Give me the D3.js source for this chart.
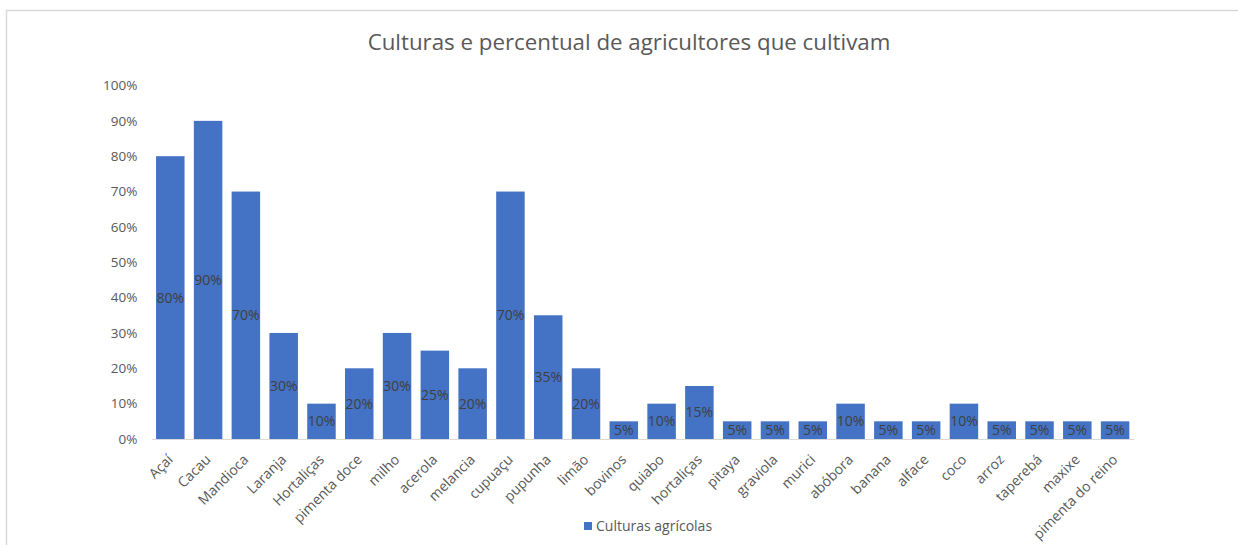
<!DOCTYPE html>
<html><head><meta charset="utf-8">
<script src="https://cdn.jsdelivr.net/npm/d3@7"></script>
<style>body{margin:0;background:#fff} svg{display:block}</style>
</head><body><svg id="c" width="1238" height="545"></svg>
<script>
const categories = ["Açaí","Cacau","Mandioca","Laranja","Hortaliças","pimenta doce","milho","acerola","melancia","cupuaçu","pupunha","limão","bovinos","quiabo","hortaliças","pitaya","graviola","murici","abóbora","banana","alface","coco","arroz","taperebá","maxixe","pimenta do reino"];
const values = [80,90,70,30,10,20,30,25,20,70,35,20,5,10,15,5,5,5,10,5,5,10,5,5,5,5];
const yTicks = [0,10,20,30,40,50,60,70,80,90,100];
const seriesName = "Culturas agrícolas";
const chartTitle = "Culturas e percentual de agricultores que cultivam";

const FONT = "'Open Sans', Lato, sans-serif";
const svg = d3.select("#c");

// chart frame
svg.append("rect").attr("x",6.5).attr("y",10.5).attr("width",1300).attr("height",600)
  .attr("fill","#fff").attr("stroke","#d9d9d9").attr("stroke-width",1.5);

const x = d3.scaleBand().domain(categories).range([151.4,1134]).paddingInner(0.246).paddingOuter(0.123);
const y = d3.scaleLinear().domain([0,100]).range([439,85.5]);

// title
svg.append("text").attr("x",629).attr("y",50).attr("text-anchor","middle")
  .attr("font-family",FONT).attr("font-size",22.3).attr("fill","#595959").text(chartTitle);

// y axis
const ya = svg.append("g").attr("transform","translate(151.4,0)")
  .call(d3.axisLeft(y).tickValues(yTicks).tickFormat(d=>d+"%").tickSize(0).tickPadding(14));
ya.select(".domain").remove();
ya.selectAll("text").attr("font-family",FONT).attr("font-size",13.5).attr("fill","#595959");

// bars
svg.append("g").selectAll("rect").data(categories).join("rect")
  .attr("x",d=>x(d)).attr("y",(d,i)=>y(values[i]))
  .attr("width",x.bandwidth()).attr("height",(d,i)=>y(0)-y(values[i]))
  .attr("fill","#4472C4");

// x axis
const xa = svg.append("g").attr("transform",`translate(0,${y(0)})`)
  .call(d3.axisBottom(x).tickSize(0).tickSizeOuter(0).tickPadding(0));
xa.select(".domain").attr("stroke","#d9d9d9").attr("stroke-width",1.2);
xa.selectAll("text").attr("font-family",FONT).attr("font-size",14).attr("fill","#595959")
  .attr("text-anchor","end").attr("dy","0.35em")
  .attr("transform","translate(0,18) rotate(-45)");

// data labels
svg.append("g").selectAll("text").data(categories).join("text")
  .attr("x",d=>x(d)+x.bandwidth()/2)
  .attr("y",(d,i)=>(y(values[i])+y(0))/2)
  .attr("dy","0.35em").attr("text-anchor","middle")
  .attr("font-family",FONT).attr("font-size",14).attr("fill","#404040")
  .text((d,i)=>values[i]+"%");

// legend
const lg = svg.append("g");
lg.append("rect").attr("x",584).attr("y",522).attr("width",8).attr("height",8).attr("fill","#4472C4");
lg.append("text").attr("x",596).attr("y",526).attr("dy","0.35em")
  .attr("font-family",FONT).attr("font-size",14).attr("fill","#595959").text(seriesName);
</script></body></html>
